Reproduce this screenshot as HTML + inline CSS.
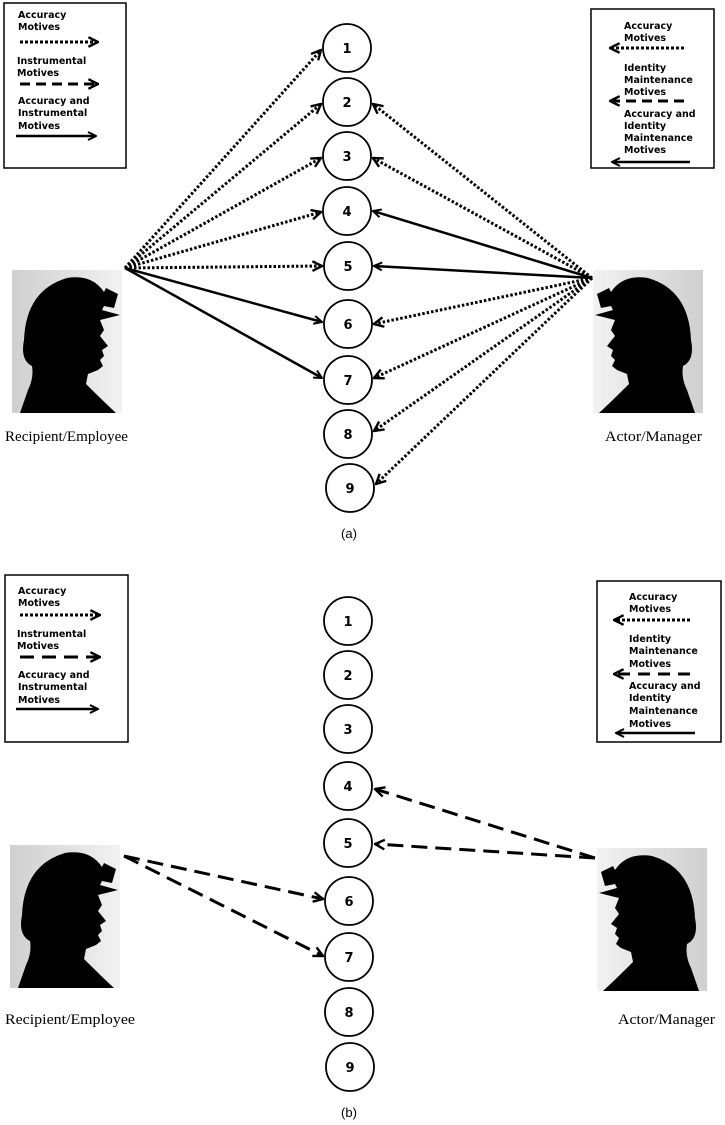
<!DOCTYPE html>
<html><head><style>
body{margin:0;background:#fff;}
svg{display:block;}
.lg{font-family:"DejaVu Sans","Liberation Sans",sans-serif;font-size:9.5px;font-weight:bold;}
.num{font-family:"DejaVu Sans","Liberation Sans",sans-serif;font-size:13px;font-weight:bold;}
.ser{font-family:"Liberation Serif",serif;font-size:15px;}
.cap{font-family:"Liberation Sans",sans-serif;font-size:13px;}
</style></head><body>
<svg width="725" height="1125" viewBox="0 0 725 1125" xmlns="http://www.w3.org/2000/svg">
<defs>
<marker id="ah" viewBox="0 0 10 10" refX="9" refY="5" markerWidth="4" markerHeight="4" orient="auto" markerUnits="strokeWidth">
<path d="M1,1 L9,5 L1,9" fill="none" stroke="#000" stroke-width="2"/>
</marker>
<linearGradient id="bg" x1="0" x2="1"><stop offset="0" stop-color="#cfcfcf"/><stop offset="1" stop-color="#f2f2f2"/></linearGradient>
<g id="head">
<rect x="0" y="0" width="110" height="143" fill="url(#bg)"/>
<path d="M8,143 L16,120 Q22,108 20,96 Q8,90 12,70 Q14,20 55,8 Q80,4 92,22 L94,18 L106,24 L102,38 L92,36 L90,40 L108,45 L88,50 L92,60 L88,66 L96,76 L90,80 L92,86 L88,90 L91,96 L86,100 L76,104 L74,114 Q90,130 104,143 Z" fill="#000"/>
</g>
</defs>
<g class="lg" fill="#000">
<rect x="4" y="3" width="122" height="165" fill="none" stroke="#000" stroke-width="1.5"/>
<text x="18" y="18">Accuracy</text><text x="18" y="30">Motives</text>
<line x1="20" y1="42" x2="98" y2="42" stroke="#000" stroke-width="3" stroke-dasharray="3,2" marker-end="url(#ah)"/>
<text x="17" y="64">Instrumental</text><text x="17" y="76">Motives</text>
<line x1="20" y1="84" x2="98" y2="84" stroke="#000" stroke-width="3" stroke-dasharray="10,6" marker-end="url(#ah)"/>
<text x="18" y="104">Accuracy and</text><text x="18" y="116">Instrumental</text><text x="18" y="129">Motives</text>
<line x1="16" y1="136" x2="96" y2="136" stroke="#000" stroke-width="2.5" marker-end="url(#ah)"/>

<rect x="591" y="9" width="123" height="159" fill="none" stroke="#000" stroke-width="1.5"/>
<text x="624" y="29">Accuracy</text><text x="624" y="41">Motives</text>
<line x1="684" y1="48" x2="610" y2="48" stroke="#000" stroke-width="3" stroke-dasharray="3,2" marker-end="url(#ah)"/>
<text x="624" y="71">Identity</text><text x="624" y="83">Maintenance</text><text x="624" y="95">Motives</text>
<line x1="684" y1="101" x2="610" y2="101" stroke="#000" stroke-width="3" stroke-dasharray="10,6" marker-end="url(#ah)"/>
<text x="624" y="117">Accuracy and</text><text x="624" y="129">Identity</text><text x="624" y="141">Maintenance</text><text x="624" y="153">Motives</text>
<line x1="690" y1="162" x2="612" y2="162" stroke="#000" stroke-width="2.5" marker-end="url(#ah)"/>

<rect x="5" y="575" width="123" height="167" fill="none" stroke="#000" stroke-width="1.5"/>
<text x="18" y="594">Accuracy</text><text x="18" y="606">Motives</text>
<line x1="20" y1="615" x2="100" y2="615" stroke="#000" stroke-width="3" stroke-dasharray="3,2" marker-end="url(#ah)"/>
<text x="17" y="637">Instrumental</text><text x="17" y="649">Motives</text>
<line x1="20" y1="657" x2="100" y2="657" stroke="#000" stroke-width="3" stroke-dasharray="14,8" marker-end="url(#ah)"/>
<text x="18" y="678">Accuracy and</text><text x="18" y="690">Instrumental</text><text x="18" y="703">Motives</text>
<line x1="16" y1="709" x2="98" y2="709" stroke="#000" stroke-width="2.5" marker-end="url(#ah)"/>

<rect x="597" y="581" width="124" height="161" fill="none" stroke="#000" stroke-width="1.5"/>
<text x="629" y="600">Accuracy</text><text x="629" y="612">Motives</text>
<line x1="690" y1="620" x2="614" y2="620" stroke="#000" stroke-width="3" stroke-dasharray="3,2" marker-end="url(#ah)"/>
<text x="629" y="642">Identity</text><text x="629" y="654">Maintenance</text><text x="629" y="667">Motives</text>
<line x1="690" y1="674" x2="614" y2="674" stroke="#000" stroke-width="3" stroke-dasharray="12,8" marker-end="url(#ah)"/>
<text x="629" y="689">Accuracy and</text><text x="629" y="701">Identity</text><text x="629" y="714">Maintenance</text><text x="629" y="727">Motives</text>
<line x1="695" y1="733" x2="616" y2="733" stroke="#000" stroke-width="2.5" marker-end="url(#ah)"/>
</g>

<g fill="#fff" stroke="#000" stroke-width="1.8">
<circle cx="347" cy="48" r="24"/><circle cx="347" cy="102" r="24"/><circle cx="347" cy="156" r="24"/>
<circle cx="347" cy="211" r="24"/><circle cx="348" cy="266" r="24"/><circle cx="348" cy="324" r="24"/>
<circle cx="348" cy="380" r="24"/><circle cx="348" cy="434" r="24"/><circle cx="350" cy="488" r="24"/>
<circle cx="348" cy="621" r="24"/><circle cx="348" cy="675" r="24"/><circle cx="348" cy="729" r="24"/>
<circle cx="348" cy="786" r="24"/><circle cx="348" cy="843" r="24"/><circle cx="349" cy="901" r="24"/>
<circle cx="349" cy="957" r="24"/><circle cx="349" cy="1012" r="24"/><circle cx="350" cy="1067" r="24"/>
</g>
<g class="num" text-anchor="middle">
<text x="347" y="53">1</text><text x="347" y="107">2</text><text x="347" y="161">3</text>
<text x="347" y="216">4</text><text x="348" y="271">5</text><text x="348" y="329">6</text>
<text x="348" y="385">7</text><text x="348" y="439">8</text><text x="350" y="493">9</text>
<text x="348" y="626">1</text><text x="348" y="680">2</text><text x="348" y="734">3</text>
<text x="348" y="791">4</text><text x="348" y="848">5</text><text x="349" y="906">6</text>
<text x="349" y="962">7</text><text x="349" y="1017">8</text><text x="350" y="1072">9</text>
</g>

<g stroke="#000" fill="none">
<g stroke-width="3" stroke-dasharray="2.5,2">
<line x1="125" y1="268" x2="321" y2="50" marker-end="url(#ah)"/>
<line x1="125" y1="268" x2="321" y2="104" marker-end="url(#ah)"/>
<line x1="125" y1="268" x2="321" y2="158" marker-end="url(#ah)"/>
<line x1="125" y1="268" x2="321" y2="212" marker-end="url(#ah)"/>
<line x1="125" y1="268" x2="322" y2="266" marker-end="url(#ah)"/>
<line x1="592" y1="278" x2="373" y2="104" marker-end="url(#ah)"/>
<line x1="592" y1="278" x2="373" y2="158" marker-end="url(#ah)"/>
<line x1="592" y1="278" x2="374" y2="324" marker-end="url(#ah)"/>
<line x1="592" y1="278" x2="374" y2="378" marker-end="url(#ah)"/>
<line x1="592" y1="278" x2="374" y2="431" marker-end="url(#ah)"/>
<line x1="592" y1="278" x2="376" y2="484" marker-end="url(#ah)"/>
</g>
<g stroke-width="2.5">
<line x1="125" y1="268" x2="322" y2="322" marker-end="url(#ah)"/>
<line x1="125" y1="268" x2="322" y2="378" marker-end="url(#ah)"/>
<line x1="592" y1="278" x2="373" y2="211" marker-end="url(#ah)"/>
<line x1="592" y1="278" x2="374" y2="266" marker-end="url(#ah)"/>
</g>
<g stroke-width="3" stroke-dasharray="16,8">
<line x1="124" y1="856" x2="323" y2="899" marker-end="url(#ah)"/>
<line x1="124" y1="856" x2="323" y2="956" marker-end="url(#ah)"/>
<line x1="595" y1="858" x2="375" y2="789" marker-end="url(#ah)"/>
<line x1="595" y1="858" x2="375" y2="844" marker-end="url(#ah)"/>
</g>
</g>

<use href="#head" x="12" y="270"/>
<g transform="translate(703,270) scale(-1,1)"><use href="#head"/></g>
<use href="#head" x="10" y="845"/>
<g transform="translate(707,848) scale(-1,1)"><use href="#head"/></g>

<text class="ser" x="5" y="441" textLength="123" lengthAdjust="spacingAndGlyphs">Recipient/Employee</text>
<text class="ser" x="605" y="441" textLength="97" lengthAdjust="spacingAndGlyphs">Actor/Manager</text>
<text class="ser" x="5" y="1024" textLength="130" lengthAdjust="spacingAndGlyphs">Recipient/Employee</text>
<text class="ser" x="618" y="1024" textLength="97" lengthAdjust="spacingAndGlyphs">Actor/Manager</text>
<text class="cap" x="349" y="538" text-anchor="middle">(a)</text>
<text class="cap" x="349" y="1117" text-anchor="middle">(b)</text>
</svg>
</body></html>
